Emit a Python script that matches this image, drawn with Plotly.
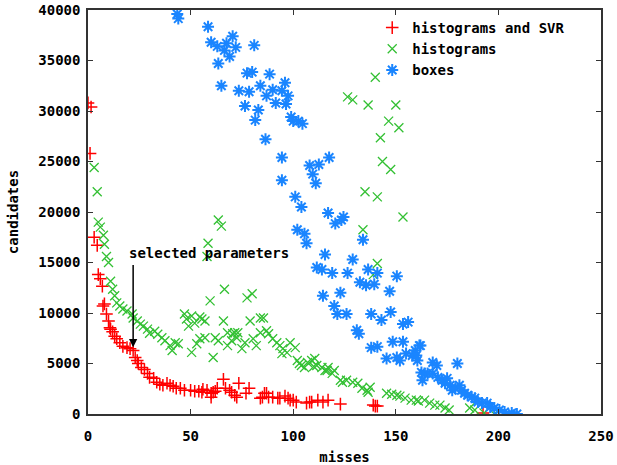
import plotly.graph_objects as go

# ---- data ----
svr_x = [0, 1.5, 1, 3, 4.5, 5, 6, 7, 7.3, 8, 9, 10, 10.7, 11, 12, 13, 14, 15.5, 17, 19, 20.5, 22, 23, 24,
         24.5, 26, 27.5, 29, 30, 32, 33.5, 35, 36.5, 38.5, 40, 41.5, 43, 45, 47, 50, 52, 54, 55.5, 56, 58,
         60, 61, 60, 62, 63, 66, 67, 69, 70, 71.5, 72.5, 73.5, 77, 78.5, 84, 85, 86, 87, 88, 90, 92.5, 93.5,
         96, 97.5, 98.5, 100, 101.5, 106.5, 108, 109, 112, 114.5, 117, 123, 139, 140, 141, 192.5]
svr_y = [30800, 30400, 25800, 17500, 16700, 13800, 13400, 12650, 10700, 10900, 9900, 9200, 8540, 8400, 8150,
         7700, 7450, 7060, 6700, 6570, 6470, 6280, 5600, 5300, 5000, 4600, 4400, 4020, 3630, 3530, 3140,
         2940, 2840, 3040, 2840, 2750, 2550, 2550, 2350, 2350, 2250, 2250, 2160, 2450, 2350, 2060, 2160,
         1670, 2250, 2550, 3430, 2550, 2350, 2160, 1860, 1670, 3040, 2060, 2550, 1570, 1670, 2060, 2060,
         1670, 1670, 1570, 1570, 1770, 1570, 1370, 1370, 1180, 1080, 1180, 1180, 1370, 1180, 1370, 980,
         880, 780, 780, 100]

hist_x = [3, 4.5, 5, 6, 7.5, 8, 9, 10, 11, 12, 13, 14, 15.5, 17, 19, 21.5, 22, 24, 25.5, 27, 29, 30, 32.5,
          34, 36, 37.5, 40, 41, 42.5, 44, 47, 48, 49, 50.5, 50.5, 52, 53, 54.5, 54.5, 55.5, 57, 57, 58,
          58.5, 59.5, 61, 62, 63.5, 63.5, 65, 66, 66.5, 68, 68, 70, 70.5, 71.5, 72.5, 73, 75, 76.5, 77.5,
          79, 80, 80.5, 82, 84, 84, 85.5, 87, 88, 90, 92, 93.5, 94.5, 95, 97, 98.5, 101, 102, 103, 104,
          105.5, 107, 109, 110, 111.5, 110.5, 114, 115.5, 116.5, 117, 119, 120, 123, 124, 126, 129, 131.5,
          133.5, 136, 136.5, 137.5, 145.5, 148, 150.5, 152, 154.5, 157.5, 160, 161, 164, 166.5, 169,
          171.5, 174, 176, 186, 188.5, 193, 198,
          126.5, 129, 136.5, 140, 142.5, 143.5, 146.5, 147.5, 150, 151.5, 135, 141, 153.5, 134, 141, 139]
hist_y = [24400, 22000, 19000, 18500, 17700, 16800, 15600, 15000, 13150, 12350, 11700, 11000, 10700, 10400,
          10200, 9900, 9500, 9200, 8900, 8700, 8400, 8000, 8200, 7900, 7550, 7250, 6770, 6280, 7060, 6960,
          9900, 9400, 8700, 9700, 6100, 9000, 6960, 9600, 7450, 9400, 9200, 7550, 15600, 16900, 11200,
          5600, 7550, 7260, 19200, 18600, 9200, 12350, 8040, 6770, 7260, 7950, 8040, 7550, 8040, 6470,
          7060, 11500, 9200, 11900, 7450, 6770, 9500, 8040, 9500, 8240, 7950, 7450, 7060, 6770, 5980,
          6470, 6080, 7060, 6570, 5300, 5000, 4800, 4600, 5100, 5300, 4700, 4800, 5500, 4600, 4300, 4300,
          4600, 4020, 4300, 3340, 3140, 3340, 3140, 3040, 2550, 2350, 2160, 2650, 2060, 1960, 1860, 1770,
          1570, 1370, 1370, 1280, 1370, 1080, 880, 880, 590, 390, 590, 390, 100, 0,
          31400, 31100, 30600, 33350, 27350, 25000, 29000, 24200, 30600, 28350, 22000, 21500, 19500,
          18250, 14900, 13800]

box_x = [43.5, 44, 58.5, 60, 63, 70.5, 67.5, 72, 66.5, 69, 81, 63.5, 65, 77.5, 80, 88.5, 73.5, 78.5, 84, 87,
         90, 94.5, 96, 97.5, 91.5, 96.5, 76.5, 83, 81.5, 99, 100, 102.5, 104.5, 86.5, 94.5, 108, 112.5,
         117.5, 109.5, 111, 94.5, 101, 104, 117, 120.5, 123.5, 124.5, 102, 105.5, 106.5, 134, 115.5, 129,
         111.5, 114, 119, 126.5, 136.5, 141, 150.5, 132.5, 135.5, 139.5, 114.5, 123, 147, 120, 121.5, 126,
         138, 147.5, 143, 131, 132, 153.5, 156, 148.5, 153.5, 138, 141, 162, 145.5, 150.5, 152, 155, 158,
         159.5, 160, 160.5, 161.5, 162.5, 164, 163, 165.5, 168, 168, 170.5, 170, 180, 172.5, 174, 175,
         176.5, 177.5, 179, 181, 182, 183.5, 185, 187, 188.5, 190, 192, 194.5, 196, 198, 200.5, 203,
         206.5, 209]
box_y = [39600, 39150, 38350, 36800, 36400, 37400, 36700, 36300, 36000, 35400, 36500, 34700, 32500, 33750,
         33850, 33650, 32000, 31900, 32500, 31500, 32100, 32000, 32800, 31500, 30800, 30700, 30500, 30100,
         29100, 29400, 29000, 29000, 28750, 27200, 25400, 24600, 24700, 25400, 23750, 22850, 23150, 21500,
         20500, 19900, 18850, 19200, 19500, 18250, 17850, 16900, 17250, 15800, 15300, 14500, 14300, 13950,
         13950, 14300, 13950, 13650, 13050, 12750, 12850, 11700, 12000, 12150, 10700, 9900, 9900, 9900,
         10100, 9300, 8300, 7950, 8900, 9100, 7150, 7150, 6570, 6670, 6770, 5500, 5600, 5300, 5980, 5790,
         6280, 5790, 5300, 6770, 4120, 4020, 3340, 4020, 4020, 5100, 3630, 4800, 5000, 3340, 3040, 3530,
         2840, 2350, 2550, 2840, 2350, 2060, 1860, 1670, 1570, 1180, 1080, 1080, 690, 590, 390, 200, 100, 0]

x_ticks = [0, 50, 100, 150, 200, 250]
y_ticks = [0, 5000, 10000, 15000, 20000, 25000, 30000, 35000, 40000]

FONT = "DejaVu Sans Mono"
TICKFONT = dict(family=FONT, size=14, color="#000000", weight="bold")
TEXTFONT = dict(family=FONT, size=14, color="#000000", weight="bold")

fig = go.Figure()
fig.add_trace(go.Scatter(x=svr_x, y=svr_y, mode="markers", name="histograms and SVR",
                         marker=dict(symbol="cross-thin", size=9, color="#ff0000",
                                     line=dict(color="#ff0000", width=1.5))))
fig.add_trace(go.Scatter(x=hist_x, y=hist_y, mode="markers", name="histograms",
                         marker=dict(symbol="x-thin", size=9, color="#33c033",
                                     line=dict(color="#33c033", width=1.3))))
fig.add_trace(go.Scatter(x=box_x, y=box_y, mode="markers", name="boxes",
                         marker=dict(symbol="asterisk", size=10, color="#1a85ff",
                                     line=dict(color="#1a85ff", width=2))))

# annotation: selected parameters
fig.add_annotation(x=22, y=6600, ax=22, ay=14900, axref="x", ayref="y", xref="x", yref="y",
                   text="", showarrow=True, arrowhead=2, arrowsize=1.1, arrowwidth=1.5,
                   arrowcolor="#000000")
fig.add_annotation(x=19, y=15900, xref="x", yref="y", text="selected parameters", showarrow=False,
                   xanchor="left", yanchor="middle", font=TEXTFONT)

axis_common = dict(showline=True, linecolor="#333333", linewidth=1.5, mirror="allticks",
                   ticks="inside", ticklen=5, tickwidth=1.2, tickcolor="#333333",
                   showgrid=False, zeroline=False, ticklabeloverflow="allow",
                   automargin=False, tickfont=TICKFONT)

fig.update_layout(
    width=617, height=465,
    margin=dict(l=88, r=16, t=10, b=51),
    paper_bgcolor="white", plot_bgcolor="white",
    font=TEXTFONT,
    xaxis=dict(range=[0, 250], tickvals=x_ticks, ticktext=[str(v) for v in x_ticks],
               ticklabelstandoff=8,
               title=dict(text="misses", standoff=10, font=TEXTFONT),
               **axis_common),
    yaxis=dict(range=[0, 40000], tickvals=y_ticks, ticktext=[str(v) for v in y_ticks],
               ticklabelstandoff=3,
               title=dict(text="candidates", standoff=16, font=TEXTFONT),
               **axis_common),
    legend=dict(x=0.94, xanchor="right", y=0.995, yanchor="top", bgcolor="rgba(0,0,0,0)",
                font=TEXTFONT, tracegroupgap=0, itemwidth=30),
    showlegend=True,
)

fig.write_html("out.html")
